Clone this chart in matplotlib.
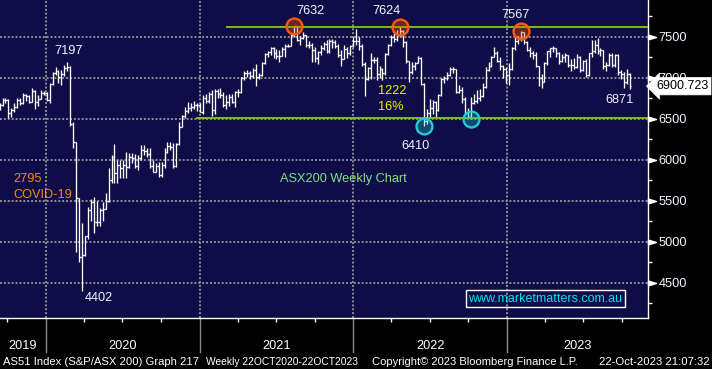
import numpy as np
import pandas as pd
import matplotlib
matplotlib.use("Agg")
import matplotlib.pyplot as plt
import matplotlib.dates as mdates
from matplotlib.ticker import FixedLocator, NullFormatter
from matplotlib.transforms import blended_transform_factory as blend

plt.rcParams["font.family"] = ["Liberation Sans", "DejaVu Sans"]

# ── weekly bars (week ending Friday) ─────────────────────────────────────
first_open = 6640

close_2019 = [6668, 6731, 6728, 6575, 6607, 6652, 6736, 6693, 6790, 6784, 6704, 6846, 6707, 6744, 6816, 6821]
high_2019 = [6690, 6760, 6760, 6740, 6640, 6690, 6760, 6760, 6820, 6800, 6790, 6880, 6850, 6790, 6850, 6840]
low_2019 = [6610, 6660, 6690, 6510, 6530, 6590, 6640, 6670, 6680, 6720, 6700, 6710, 6620, 6660, 6740, 6790]

close_2020 = [6734, 6929, 7065, 7090, 7017, 7049, 7125, 7139, 6441, 6216, 5539, 4816, 4842,
              5067, 5387, 5488, 5242, 5246, 5391, 5405, 5497, 5755, 6036, 5847, 5942, 5905,
              5935, 5920, 6034, 6020, 5928, 6027, 6127, 6111, 6073, 5925, 5859, 5925, 5816,
              5941, 6102, 6172, 6163, 5927, 6190, 6404, 6539, 6601, 6634, 6642, 6676, 6665]
high_2020 = [6830, 6940, 7070, 7130, 7100, 7100, 7160, 7197, 7150, 6460, 6222, 5540, 5230,
             5070, 5430, 5530, 5546, 5500, 5420, 5490, 5600, 5900, 6060, 6190, 6000, 6000,
             6000, 6100, 6080, 6080, 6070, 6060, 6183, 6183, 6150, 6150, 6000, 5960, 5980,
             5980, 6146, 6224, 6220, 6207, 6210, 6467, 6549, 6650, 6711, 6700, 6720, 6700]
low_2020 = [6720, 6700, 6920, 7040, 6940, 6920, 7030, 7080, 6420, 6150, 4880, 4750, 4402,
            4830, 5040, 5250, 5110, 5190, 5200, 5250, 5400, 5490, 5716, 5720, 5720, 5780,
            5780, 5780, 5900, 5960, 5900, 5880, 6000, 6060, 6040, 5900, 5857, 5857, 5796,
            5796, 5900, 6080, 6120, 5900, 5918, 6183, 6400, 6510, 6570, 6600, 6620, 6600]

close_2021 = [6587, 6757, 6715, 6800, 6607, 6841, 6806, 6795, 6673, 6711, 6767, 6708, 6824,
              6828, 6995, 7063, 7062, 7025, 7098, 7014, 7031, 7180, 7295, 7312, 7370, 7308,
              7273, 7272, 7348, 7394, 7392, 7522, 7628, 7460, 7489, 7522, 7406, 7404, 7342,
              7249, 7320, 7363, 7415, 7324, 7457, 7443, 7396, 7279, 7234, 7353, 7305, 7387, 7445]
high_2021 = [6700, 6790, 6800, 6830, 6850, 6860, 6860, 6880, 6830, 6790, 6800, 6800, 6840,
             6870, 7010, 7080, 7100, 7090, 7120, 7170, 7060, 7190, 7300, 7330, 7380, 7380,
             7350, 7340, 7380, 7410, 7420, 7540, 7632, 7630, 7510, 7560, 7530, 7450, 7430,
             7380, 7330, 7400, 7440, 7460, 7470, 7470, 7460, 7420, 7340, 7400, 7380, 7400, 7500]
low_2021 = [6580, 6560, 6690, 6700, 6540, 6560, 6760, 6760, 6650, 6620, 6660, 6700, 6650,
            6770, 6820, 6980, 7010, 6990, 7000, 6900, 6990, 7020, 7170, 7260, 7280, 7240,
            7230, 7190, 7270, 7250, 7380, 7390, 7500, 7450, 7400, 7480, 7380, 7360, 7200,
            7190, 7170, 7280, 7340, 7300, 7300, 7370, 7370, 7250, 7150, 7230, 7240, 7280, 7380]

close_2022 = [7453, 7393, 7174, 6988, 7120, 7217, 7221, 7049, 7111, 7064, 7295, 7406, 7499,
              7479, 7523, 7574, 7435, 7205, 7075, 7146, 7182, 7238, 6932, 6475, 6578, 6629,
              6706, 6605, 6794, 6993, 7004, 7033, 7115, 7105, 6830, 6855, 6739, 6574, 6520,
              6700, 6720, 6760, 6785, 6892, 7100, 7151, 7259, 7301, 7213, 7149, 7115, 7039]
high_2022 = [7600, 7500, 7420, 7200, 7140, 7300, 7260, 7250, 7150, 7120, 7300, 7410, 7520,
             7560, 7580, 7624, 7580, 7450, 7210, 7200, 7200, 7270, 7260, 6940, 6620, 6740,
             6730, 6720, 6810, 7000, 7030, 7070, 7138, 7130, 7110, 6920, 6894, 6770, 6640,
             6770, 6800, 6850, 6860, 6940, 7138, 7200, 7270, 7380, 7330, 7250, 7160, 7130]
low_2022 = [7400, 7340, 7150, 6780, 6970, 6985, 7180, 6980, 7000, 6980, 7040, 7280, 7390,
            7440, 7450, 7500, 7380, 7180, 6950, 7050, 7100, 7180, 6920, 6410, 6440, 6530,
            6560, 6530, 6600, 6780, 6940, 6970, 7030, 7060, 6817, 6820, 6700, 6560, 6515,
            6500, 6680, 6700, 6720, 6770, 6880, 7090, 7140, 7250, 7190, 7100, 7000, 6935]

close_2023 = [7109, 7365, 7452, 7493, 7559, 7433, 7347, 7307, 7283, 7144, 6995, 6955, 7178,
              7325, 7362, 7364, 7309, 7206, 7256, 7279, 7154, 7163, 7128, 7259, 7099, 7203,
              7033, 7303, 7325, 7403, 7325, 7340, 7148, 7159, 7279, 7156, 7279, 7068, 7049,
              6954, 7051, 6900.723]
high_2023 = [7183, 7380, 7500, 7510, 7567, 7560, 7450, 7380, 7330, 7320, 7150, 7050, 7200,
             7330, 7370, 7390, 7370, 7320, 7290, 7300, 7280, 7230, 7240, 7290, 7270, 7220,
             7230, 7310, 7460, 7460, 7490, 7370, 7340, 7200, 7300, 7300, 7290, 7290, 7100,
             7070, 7110, 7060]
low_2023 = [6915, 7100, 7341, 7420, 7450, 7410, 7330, 7250, 7230, 7130, 6900, 6880, 6950,
            7160, 7260, 7320, 7260, 7170, 7190, 7200, 7140, 7090, 7110, 7120, 7070, 7090,
            7010, 7020, 7260, 7300, 7290, 7270, 7110, 7090, 7150, 7130, 7140, 7040, 6990,
            6880, 6930, 6871]

first_week = "2019-09-13"
x_from, x_to = "2019-09-14", "2023-12-02"
y_from, y_to = 4073, 7951
y_major = [4500, 5000, 5500, 6000, 6500, 7000, 7500]
y_minor = [4250, 4750, 5250, 5750, 6250, 6750, 7250, 7750]

resist_level, resist_from = 7626, "2021-03-03"
support_level, support_from = 6514, "2020-12-23"
top_weeks = ["2021-08-13", "2022-04-22", "2023-02-03"]
bottom_weeks = ["2022-06-17", "2022-10-07"]

close = np.array(close_2019 + close_2020 + close_2021 + close_2022 + close_2023)
high = np.array(high_2019 + high_2020 + high_2021 + high_2022 + high_2023)
low = np.array(low_2019 + low_2020 + low_2021 + low_2022 + low_2023)
opens = np.r_[first_open, close[:-1]]
dates = pd.date_range(first_week, periods=len(close), freq="W-FRI")

# ── colours ─────────────────────────────────────────────────
NAVY = "#0f0d47"
GRID = "#8e8e8e"
GREEN = "#80cc12"
TXT = "#f2f5ff"
ORANGE = "#f08a1c"

W, H = 712, 369
AX_R, AX_B = 648, 318          # right / bottom edge of the plot panel in pixels


def fxy(px, py):
    return px / W, 1 - py / H


fig = plt.figure(figsize=(W / 100, H / 100), dpi=100, facecolor="black")
ax = fig.add_axes([0, 1 - AX_B / H, AX_R / W, AX_B / H])
ax.set_facecolor(NAVY)

xd = mdates.date2num(dates)
half = 3.5  # days, length of open/close ticks
ax.vlines(xd, low, high, color="white", lw=0.95, zorder=3)
ax.hlines(opens, xd - half, xd, color="white", lw=0.95, zorder=3)
ax.hlines(close, xd, xd + half, color="white", lw=0.95, zorder=3)

x0 = mdates.date2num(pd.Timestamp(x_from))
x1 = mdates.date2num(pd.Timestamp(x_to))
ax.set_xlim(x0, x1)
ax.set_ylim(y_from, y_to)

# grid
for y in y_major:
    ax.axhline(y, color=GRID, lw=1.4, ls=(0, (1, 1)), zorder=1)
years = [2020, 2021, 2022, 2023]
year_x = [mdates.date2num(pd.Timestamp(f"{y}-01-01")) for y in years]
for xv in year_x:
    ax.axvline(xv, color=GRID, lw=1.4, ls=(0, (1, 1)), zorder=1)

# support / resistance lines
ax.hlines(resist_level, mdates.date2num(pd.Timestamp(resist_from)), x1, color=GREEN, lw=1.3, zorder=4)
ax.hlines(support_level, mdates.date2num(pd.Timestamp(support_from)), x1, color=GREEN, lw=1.3, zorder=4)

# circles on the tops and bottoms
top_idx = [dates.get_loc(pd.Timestamp(d)) for d in top_weeks]
bot_idx = [dates.get_loc(pd.Timestamp(d)) for d in bottom_weeks]
ax.scatter(xd[top_idx], high[top_idx], s=130, facecolors=[(1, 0.33, 0, 0.36)],
           edgecolors="#ff5a0a", linewidths=1.7, zorder=5)
ax.scatter(xd[bot_idx], low[bot_idx], s=130, facecolors=[(0.1, 0.8, 0.85, 0.32)],
           edgecolors="#1ecbd6", linewidths=1.7, zorder=5)

# spines
for s in ["top", "left"]:
    ax.spines[s].set_visible(False)
for s in ["right", "bottom"]:
    ax.spines[s].set_color("white")
    ax.spines[s].set_linewidth(1.0)

# y axis on the right
ax.yaxis.tick_right()
ax.yaxis.set_major_locator(FixedLocator(y_major))
ax.yaxis.set_minor_locator(FixedLocator(y_minor))
ax.tick_params(axis="y", which="major", length=0, pad=7.4, labelsize=9.2, labelcolor=TXT)
ax.tick_params(axis="y", which="minor", length=3, width=1, color="white", direction="out")
ax.set_yticklabels([str(v) for v in y_major])
tri = [(0, -1.2), (4, 0), (0, 1.2), (0, -1.2)]
ax.plot([1.0] * len(y_major), y_major, ls="none", marker=tri, ms=11.5, color="white",
        transform=blend(ax.transAxes, ax.transData), clip_on=False, zorder=6)

# x axis: quarter ticks, year separators and labels
quarters = [mdates.date2num(d) for d in pd.date_range("2019-10-01", x_to, freq="QS")
            if d.month != 1]
ax.xaxis.set_major_locator(FixedLocator([]))
ax.xaxis.set_minor_locator(FixedLocator(quarters))
ax.xaxis.set_minor_formatter(NullFormatter())
ax.tick_params(axis="x", which="minor", length=3, width=1, color="white", direction="out")
bt = blend(ax.transData, ax.transAxes)
for xv in year_x:
    ax.plot([xv, xv], [0, -34 / AX_B], color="#8a8a8a", lw=1.0, transform=bt, clip_on=False)
edges = [x0] + year_x + [x1]
for i, lab in enumerate(["2019"] + [str(y) for y in years]):
    ax.text((edges[i] + edges[i + 1]) / 2, -(349 - AX_B) / AX_B, lab, transform=bt,
            ha="center", va="baseline", color="white", fontsize=9.2)

# last price tag
ax.text(1.0 + 8 / AX_R, close[-1], f"{close[-1]:.3f}", transform=blend(ax.transAxes, ax.transData),
        ha="left", va="center", color="black", fontsize=9, zorder=10, clip_on=False,
        bbox=dict(boxstyle="larrow,pad=0.22", fc="white", ec="white", lw=0.5))

# annotations
def label(px, py, s, color=TXT, size=9.2):
    fig.text(*fxy(px, py), s, ha="center", va="baseline", color=color, fontsize=size)

label(69, 54, "7197")
label(310, 14, "7632")
label(386, 14, "7624")
label(516, 18, "7567")
label(620, 103, "6871")
label(416, 149, "6410")
label(99, 301, "4402")
label(28, 182, "2795", ORANGE)
label(43, 198, "COVID-19", ORANGE)
label(392, 94, "1222", "#f0f000")
label(391, 110, "16%", "#f0f000")
label(343, 182, "ASX200 Weekly Chart", "#7fe08a")

fig.text(*fxy(545.5, 301.5), "www.marketmatters.com.au", ha="center", va="baseline",
         color="#00e3f0", fontsize=9,
         bbox=dict(boxstyle="square,pad=0.2", fc="none", ec="white", lw=1.0))

# footer
fig.text(*fxy(3, 365), "AS51 Index (S&P/ASX 200) Graph 217", ha="left", va="baseline",
         color="white", fontsize=8.1)
fig.text(*fxy(206, 365), "Weekly 22OCT2020-22OCT2023", ha="left", va="baseline",
         color="white", fontsize=7.4)
fig.text(*fxy(372, 365), "Copyright\u00a9 2023 Bloomberg Finance L.P.", ha="left", va="baseline",
         color="white", fontsize=8.0)
fig.text(*fxy(710, 365), "22-Oct-2023 21:07:32", ha="right", va="baseline",
         color="white", fontsize=8.1)

fig.savefig("out.png", dpi=100, facecolor="black")
